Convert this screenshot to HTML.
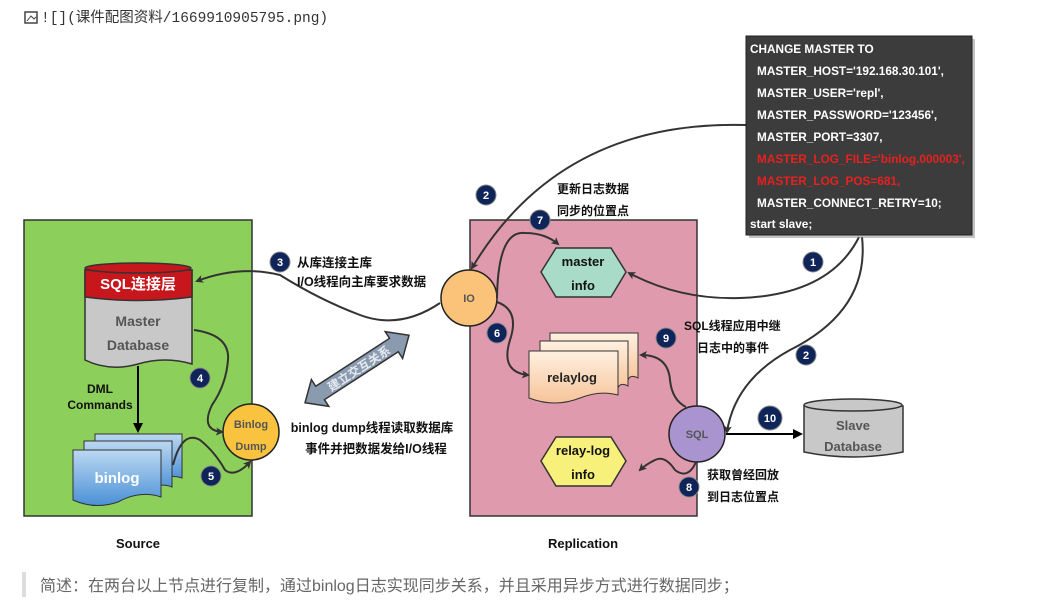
<!DOCTYPE html>
<html><head><meta charset="utf-8"><style>
html,body{margin:0;padding:0;background:#fff;width:1044px;height:613px;overflow:hidden}
svg text{font-family:"Liberation Sans","Noto Sans CJK SC",sans-serif}
</style></head><body>
<svg width="1044" height="613" viewBox="0 0 1044 613" xmlns="http://www.w3.org/2000/svg">
<defs>
<marker id="ah" markerWidth="8" markerHeight="8" refX="6" refY="4" orient="auto" markerUnits="userSpaceOnUse"><path d="M0,0 L8,4 L0,8 L2,4 z" fill="#333"/></marker>
<marker id="ahb" markerWidth="10" markerHeight="10" refX="8" refY="5" orient="auto" markerUnits="userSpaceOnUse"><path d="M0,0 L10,5 L0,10 z" fill="#000"/></marker>
<linearGradient id="blu" x1="0" y1="0" x2="0" y2="1"><stop offset="0" stop-color="#bcd8f2"/><stop offset="1" stop-color="#4a90d6"/></linearGradient>
<linearGradient id="pea" x1="0" y1="0" x2="0" y2="1"><stop offset="0" stop-color="#fff0e0"/><stop offset="1" stop-color="#f6c49a"/></linearGradient>
</defs>
<!-- header -->
<rect x="25" y="12" width="12" height="11" fill="none" stroke="#444" stroke-width="1.5"/>
<path d="M27,21 L31,16 L34,19 L36,17" stroke="#444" fill="none"/>
<text x="41" y="22" font-size="14.5" fill="#333" style="font-family:'Liberation Mono','Noto Sans CJK SC',monospace">![](课件配图资料/1669910905795.png)</text>

<rect x="24" y="220" width="228" height="296" fill="#8ccf5a" stroke="#333" stroke-width="1.5"/>
<rect x="470" y="220" width="227" height="296" fill="#e09aae" stroke="#333" stroke-width="1.5"/>

<path d="M85,270 L85,360 Q110,372 138,364 Q165,356 192,364 L192,270 Z" fill="#c8c8c8" stroke="#333" stroke-width="1.5"/>
<path d="M85,270 L85,297 Q138,304 192,297 L192,270 Z" fill="#c8161d" stroke="#333" stroke-width="1.5"/>
<ellipse cx="138" cy="268" rx="53" ry="5" fill="#c8161d" stroke="#333" stroke-width="1.5"/>
<text x="138" y="289" font-size="15" font-weight="bold" fill="#fff" text-anchor="middle">SQL连接层</text>
<text x="138" y="326" font-size="14" font-weight="bold" fill="#555" text-anchor="middle">Master</text>
<text x="138" y="350" font-size="14" font-weight="bold" fill="#555" text-anchor="middle">Database</text>
<text x="100" y="393" font-size="12" font-weight="bold" fill="#111" text-anchor="middle">DML</text>
<text x="100" y="409" font-size="12" font-weight="bold" fill="#111" text-anchor="middle">Commands</text>
<line x1="138" y1="366" x2="138" y2="431" stroke="#000" stroke-width="2" marker-end="url(#ahb)"/>

<path d="M95,434 L182,434 L182,478 Q170,474 160,480 L95,480 Z" fill="url(#blu)" stroke="#333"/>
<path d="M84,441 L172,441 L172,487 Q160,482 150,490 L84,490 Z" fill="url(#blu)" stroke="#333"/>
<path d="M73,450 L161,450 L161,497 Q140,490 118,502 Q95,510 73,500 Z" fill="url(#blu)" stroke="#333"/>
<text x="117" y="483" font-size="15" font-weight="bold" fill="#fff" text-anchor="middle">binlog</text>

<circle cx="251" cy="432" r="28" fill="#f9c33f" stroke="#222" stroke-width="1.5"/>
<text x="251" y="428" font-size="11" font-weight="bold" fill="#555" text-anchor="middle">Binlog</text>
<text x="251" y="450" font-size="11" font-weight="bold" fill="#555" text-anchor="middle">Dump</text>

<path d="M194,330 Q230,335 228,360 Q226,385 212,405 Q200,430 222,432" fill="none" stroke="#333" stroke-width="2" marker-end="url(#ah)"/>
<path d="M173,465 Q182,430 200,440 Q215,452 225,470 Q235,478 250,462" fill="none" stroke="#333" stroke-width="2" marker-end="url(#ah)"/>
<path d="M440,303 Q400,330 360,315 Q320,300 280,275 Q240,265 197,281" fill="none" stroke="#333" stroke-width="2" marker-end="url(#ah)"/>

<g transform="translate(357,369) rotate(-33)">
<polygon points="-62,0 -44,-16 -44,-8 44,-8 44,-16 62,0 44,16 44,8 -44,8 -44,16" fill="#8a9bb0" stroke="#333" stroke-width="1.5"/>
<text x="2" y="5" font-size="12" font-weight="bold" fill="#e6eaf0" text-anchor="middle">建立交互关系</text>
</g>

<text x="372" y="432" font-size="12.5" font-weight="bold" fill="#111" text-anchor="middle">binlog dump线程读取数据库</text>
<text x="376" y="453" font-size="12.5" font-weight="bold" fill="#111" text-anchor="middle">事件并把数据发给I/O线程</text>
<text x="297" y="267" font-size="12.5" font-weight="bold" fill="#111">从库连接主库</text>
<text x="297" y="286" font-size="12.5" font-weight="bold" fill="#111">I/O线程向主库要求数据</text>

<circle cx="469" cy="298" r="28" fill="#fbc37a" stroke="#222" stroke-width="1.5"/>
<text x="469" y="302" font-size="11" font-weight="bold" fill="#555" text-anchor="middle">IO</text>

<polygon points="541,272 556,248 611,248 626,272 611,297 556,297" fill="#a8dcc8" stroke="#333" stroke-width="1.5"/>
<text x="583" y="266" font-size="13" font-weight="bold" fill="#111" text-anchor="middle">master</text>
<text x="583" y="290" font-size="13" font-weight="bold" fill="#111" text-anchor="middle">info</text>

<path d="M550,333 L638,333 L638,378 Q630,374 628,380 L550,380 Z" fill="url(#pea)" stroke="#333"/>
<path d="M540,341 L628,341 L628,386 Q620,382 618,388 L540,388 Z" fill="url(#pea)" stroke="#333"/>
<path d="M529,351 L618,351 L618,395 Q600,390 580,398 Q555,408 529,398 Z" fill="url(#pea)" stroke="#333"/>
<text x="572" y="382" font-size="13" font-weight="bold" fill="#222" text-anchor="middle">relaylog</text>

<polygon points="541,461 556,437 611,437 626,461 611,486 556,486" fill="#f7f17c" stroke="#333" stroke-width="1.5"/>
<text x="583" y="455" font-size="13" font-weight="bold" fill="#111" text-anchor="middle">relay-log</text>
<text x="583" y="479" font-size="13" font-weight="bold" fill="#111" text-anchor="middle">info</text>

<circle cx="697" cy="434" r="28" fill="#a994d0" stroke="#222" stroke-width="1.5"/>
<text x="697" y="438" font-size="11" font-weight="bold" fill="#555" text-anchor="middle">SQL</text>

<path d="M804,406 L804,452 Q853,462 903,452 L903,406 Z" fill="#c8c8c8" stroke="#333" stroke-width="1.5"/>
<ellipse cx="853" cy="405" rx="49" ry="6" fill="#c8c8c8" stroke="#333" stroke-width="1.5"/>
<text x="853" y="430" font-size="13" fill="#555" text-anchor="middle" font-weight="bold">Slave</text>
<text x="853" y="451" font-size="13" fill="#555" text-anchor="middle" font-weight="bold">Database</text>
<line x1="726" y1="434" x2="801" y2="434" stroke="#000" stroke-width="2" marker-end="url(#ahb)"/>

<path d="M859,237 Q830,295 740,298 Q680,300 629,273" fill="none" stroke="#333" stroke-width="2" marker-end="url(#ah)"/>
<path d="M862,237 Q870,310 790,350 Q735,380 727,432" fill="none" stroke="#333" stroke-width="2" marker-end="url(#ah)"/>
<path d="M746,125 Q560,120 472,268" fill="none" stroke="#333" stroke-width="2" marker-end="url(#ah)"/>
<path d="M497,298 Q498,230 525,233 Q545,233 558,244" fill="none" stroke="#333" stroke-width="2" marker-end="url(#ah)"/>
<path d="M497,302 Q520,310 510,340 Q500,372 528,375" fill="none" stroke="#333" stroke-width="2" marker-end="url(#ah)"/>
<path d="M686,407 Q672,400 670,380 Q668,355 641,355" fill="none" stroke="#333" stroke-width="2" marker-end="url(#ah)"/>
<path d="M696,462 Q688,480 675,470 Q665,455 655,460 Q645,465 640,470" fill="none" stroke="#333" stroke-width="2" marker-end="url(#ah)"/>

<text x="557" y="193" font-size="12" font-weight="bold" fill="#111">更新日志数据</text>
<text x="557" y="215" font-size="12" font-weight="bold" fill="#111">同步的位置点</text>
<text x="684" y="330" font-size="12" font-weight="bold" fill="#111">SQL线程应用中继</text>
<text x="697" y="352" font-size="12" font-weight="bold" fill="#111">日志中的事件</text>
<text x="707" y="479" font-size="12" font-weight="bold" fill="#111">获取曾经回放</text>
<text x="707" y="501" font-size="12" font-weight="bold" fill="#111">到日志位置点</text>

<rect x="749" y="39" width="226" height="199" fill="#888" opacity="0.5"/>
<rect x="746" y="36" width="226" height="199" fill="#3c3c3c" stroke="#222"/>
<g font-size="11.8" font-weight="bold" fill="#fff">
<text x="750" y="53">CHANGE MASTER TO</text>
<text x="757" y="75">MASTER_HOST='192.168.30.101',</text>
<text x="757" y="97">MASTER_USER='repl',</text>
<text x="757" y="119">MASTER_PASSWORD='123456',</text>
<text x="757" y="141">MASTER_PORT=3307,</text>
<text x="757" y="163" fill="#e8201e">MASTER_LOG_FILE='binlog.000003',</text>
<text x="757" y="185" fill="#e8201e">MASTER_LOG_POS=681,</text>
<text x="757" y="207">MASTER_CONNECT_RETRY=10;</text>
<text x="750" y="228">start slave;</text>
</g>

<g font-size="11" font-weight="bold" fill="#fff" text-anchor="middle">
<g transform="translate(200,378)"><circle r="10" fill="#0f2458" stroke="#888"/><text y="4">4</text></g>
<g transform="translate(211,476)"><circle r="10" fill="#0f2458" stroke="#888"/><text y="4">5</text></g>
<g transform="translate(280,262)"><circle r="10" fill="#0f2458" stroke="#888"/><text y="4">3</text></g>
<g transform="translate(486,195)"><circle r="10" fill="#0f2458" stroke="#888"/><text y="4">2</text></g>
<g transform="translate(540,220)"><circle r="10" fill="#0f2458" stroke="#888"/><text y="4">7</text></g>
<g transform="translate(497,333)"><circle r="10" fill="#0f2458" stroke="#888"/><text y="4">6</text></g>
<g transform="translate(666,338)"><circle r="10" fill="#0f2458" stroke="#888"/><text y="4">9</text></g>
<g transform="translate(813,262)"><circle r="10" fill="#0f2458" stroke="#888"/><text y="4">1</text></g>
<g transform="translate(806,355)"><circle r="10" fill="#0f2458" stroke="#888"/><text y="4">2</text></g>
<g transform="translate(770,418)"><circle r="12" fill="#0f2458" stroke="#888"/><text y="4">10</text></g>
<g transform="translate(689,487)"><circle r="10" fill="#0f2458" stroke="#888"/><text y="4">8</text></g>
</g>

<text x="138" y="548" font-size="13" font-weight="bold" fill="#111" text-anchor="middle">Source</text>
<text x="583" y="548" font-size="13" font-weight="bold" fill="#111" text-anchor="middle">Replication</text>

<rect x="22" y="572" width="4" height="25" fill="#ddd"/>
<text x="40" y="591" font-size="16" fill="#666">简述：在两台以上节点进行复制，通过binlog日志实现同步关系，并且采用异步方式进行数据同步；</text>
</svg>
</body></html>
